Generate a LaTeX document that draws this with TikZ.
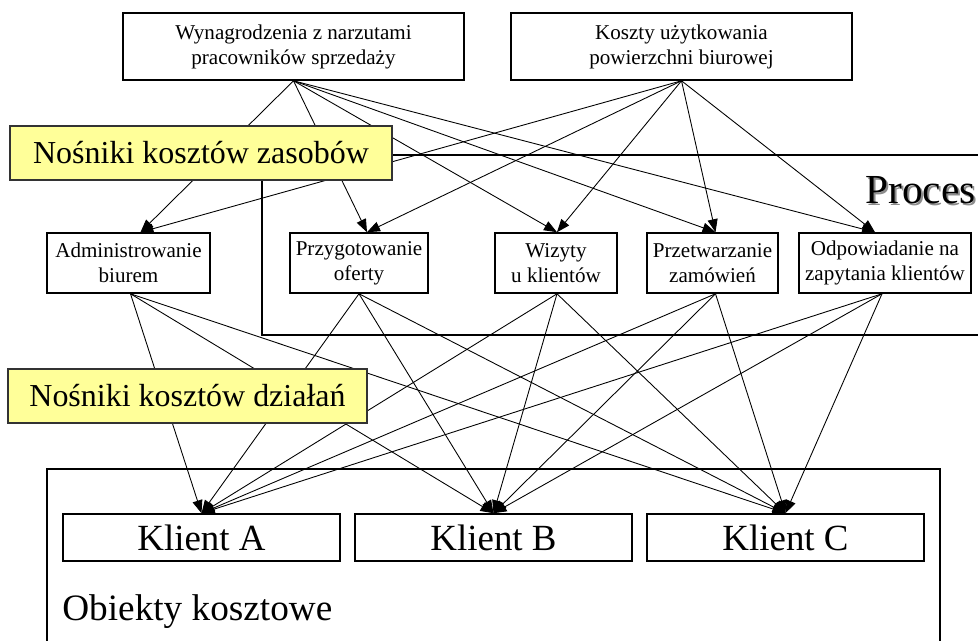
\documentclass[tikz,border=0pt]{standalone}
\usepackage{fontspec}
\setmainfont{Liberation Serif}
\usetikzlibrary{arrows.meta}
\definecolor{noteyellow}{HTML}{FFFF99}

\begin{document}
\begin{tikzpicture}[x=0.02cm,y=-0.02cm,
        box/.style={draw, line width=0.9pt, fill=white, align=center, inner sep=0pt,
            font=\fontsize{12}{14.2}\selectfont},
        topbox/.style={box, minimum width=6.82cm, minimum height=1.34cm},
        actbox/.style={box, minimum height=1.2cm},
        clientbox/.style={box, minimum width=5.54cm, minimum height=0.94cm,
            font=\fontsize{21}{24}\selectfont},
        notebox/.style={draw=black!80, line width=1pt, fill=noteyellow, inner sep=0pt,
            minimum height=1.08cm, font=\fontsize{18.2}{22}\selectfont},
        arr/.style={line width=0.5pt, -{Triangle[length=2.6mm,width=2mm]}}]
        \useasboundingbox (0,0) rectangle (978,640);
        \clip (0,0) rectangle (978,640);

        % frames of the groups
        \draw[line width=0.9pt] (1000,155) -- (262,155) -- (262,335) -- (1000,335);
        \draw[line width=0.9pt] (47,660) -- (47,469) -- (940,469) -- (940,660);
        \node[anchor=base west, inner sep=0pt, text=black!45, font=\fontsize{23.5}{28}\selectfont] (procshadow) at (867,205) {Proces};
        \node[anchor=base west, inner sep=0pt, font=\fontsize{23.5}{28}\selectfont] (proc) at (865,203) {Proces};
        \node[anchor=base west, inner sep=0pt, font=\fontsize{21.2}{25}\selectfont] (obj) at (62,620) {Obiekty kosztowe};

        % resources
        \node[topbox] (wyn) at (293.5,46.5) {Wynagrodzenia z narzutami\\pracowników sprzedaży};
        \node[topbox] (koszt) at (681.5,46.5) {Koszty użytkowania\\powierzchni biurowej};

        % activities
        \node[actbox, minimum width=3.26cm] (adm) at (128.5,263) {Administrowanie\\biurem};
        \node[actbox, minimum width=2.76cm] (ofer) at (359,263) {Przygotowanie\\oferty};
        \node[actbox, minimum width=2.44cm] (wiz) at (556,263) {Wizyty\\u klientów};
        \node[actbox, minimum width=2.62cm] (zam) at (712.5,263) {Przetwarzanie\\zamówień};
        \node[actbox, minimum width=3.44cm] (odp) at (885,263) {Odpowiadanie na\\zapytania klientów};

        % cost objects
        \node[clientbox] (kA) at (201.5,537.5) {Klient A};
        \node[clientbox] (kB) at (493.5,537.5) {Klient B};
        \node[clientbox] (kC) at (785.5,537.5) {Klient C};

        \foreach \src in {wyn,koszt} {
            \foreach \dst/\dx in {adm/12,ofer/8,wiz/1,zam/3,odp/-10} {
                \draw[arr] (\src.south) -- ([xshift=\dx*0.02cm]\dst.north);
            }
        }
        \foreach \src/\sx in {adm/2,ofer/0,wiz/1,zam/3,odp/-3} {
            \foreach \dst in {kA,kB,kC} {
                \draw[arr] ([xshift=\sx*0.02cm]\src.south) -- (\dst.north);
            }
        }

        % cost drivers
        \node[notebox, minimum width=7.64cm] (resdrv) at (201,153) {Nośniki kosztów zasobów};
        \node[notebox, minimum width=7.18cm] (actdrv) at (187.5,396) {Nośniki kosztów działań};
    \end{tikzpicture}
\end{document}
